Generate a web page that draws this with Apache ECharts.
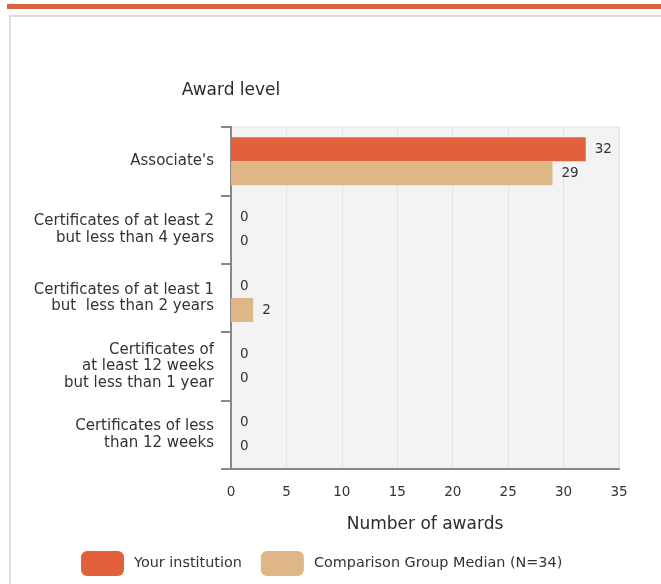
<!DOCTYPE html>
<html>
<head>
<meta charset="utf-8">
<script src="https://cdn.jsdelivr.net/npm/echarts@6/dist/echarts.min.js"></script>
<style>
  html, body { margin: 0; padding: 0; background: #fff; }
  #stripe { position: absolute; left: 7px; top: 4px; width: 654px; height: 5px; background: #d9643f; }
  #frame { position: absolute; left: 9px; top: 15px; width: 660px; height: 580px; border-left: 2px solid #dcdcdc; border-top: 2px solid #dcdcdc; }
  #main { position: absolute; left: 0; top: 0; width: 661px; height: 584px; }
</style>
</head>
<body>
<div id="stripe"></div>
<div id="frame"></div>
<div id="main"></div>
<script>
'use strict'
var categories = [
    "Associate's",
    'Certificates of at least 2\nbut less than 4 years',
    'Certificates of at least 1\nbut  less than 2 years',
    'Certificates of\nat least 12 weeks\nbut less than 1 year',
    'Certificates of less\nthan 12 weeks'
];
var yourInstitution = [32, 0, 0, 0, 0];
var groupMedian = [29, 0, 2, 0, 0];
var xTicks = [0, 35, 5];   // min, max, interval

var awards_chart = echarts.init(document.getElementById('main'), null, { renderer: 'canvas' });

var FONT = 'DejaVu Sans';

var labelStyle = {
    show: true,
    position: 'right',
    distance: 9,
    color: '#333',
    fontSize: 13.5,
    fontFamily: FONT
};

var option = {
    animation: false,
    textStyle: { fontFamily: FONT },
    grid: {
        show: true,
        left: 231,
        right: 42,
        top: 127,
        bottom: 115,
        backgroundColor: '#f3f3f3',
        borderColor: '#e2e2e2',
        borderWidth: 1
    },
    legend: {
        left: 76,
        top: 546,
        itemWidth: 43,
        itemHeight: 25,
        itemGap: 19,
        icon: 'roundRect',
        textStyle: { fontSize: 14.4, color: '#333', fontFamily: FONT, padding: [0, 0, 0, 5] },
        data: ['Your institution', 'Comparison Group Median (N=34)']
    },
    xAxis: {
        type: 'value',
        min: xTicks[0],
        max: xTicks[1],
        interval: xTicks[2],
        name: 'Number of awards',
        nameLocation: 'middle',
        nameGap: 47,
        nameTextStyle: { fontSize: 17, color: '#2b2b2b', fontFamily: FONT },
        axisLine: { show: true, lineStyle: { color: '#888', width: 2 } },
        axisTick: { show: false },
        axisLabel: { color: '#333', fontSize: 13.5, margin: 16, fontFamily: FONT },
        splitLine: { show: true, lineStyle: { color: '#dde3ef', width: 1 } }
    },
    yAxis: {
        type: 'category',
        inverse: true,
        data: categories,
        name: 'Award level',
        nameLocation: 'start',
        nameGap: 28,
        nameTextStyle: { fontSize: 17, color: '#2b2b2b', fontFamily: FONT },
        axisLine: { show: true, lineStyle: { color: '#888', width: 2 } },
        axisTick: { show: true, length: 10, lineStyle: { color: '#888', width: 2 } },
        axisLabel: { color: '#333', fontSize: 15, margin: 17, lineHeight: 16.5, align: 'right', fontFamily: FONT },
        splitLine: { show: false }
    },
    series: [
        {
            name: 'Your institution',
            type: 'bar',
            data: yourInstitution,
            barWidth: 24,
            barGap: '0%',
            itemStyle: { color: '#e3603d' },
            label: labelStyle
        },
        {
            name: 'Comparison Group Median (N=34)',
            type: 'bar',
            data: groupMedian,
            barWidth: 24,
            itemStyle: { color: '#dfb686' },
            label: labelStyle
        }
    ]
};

awards_chart.setOption(option);
</script>
</body>
</html>
